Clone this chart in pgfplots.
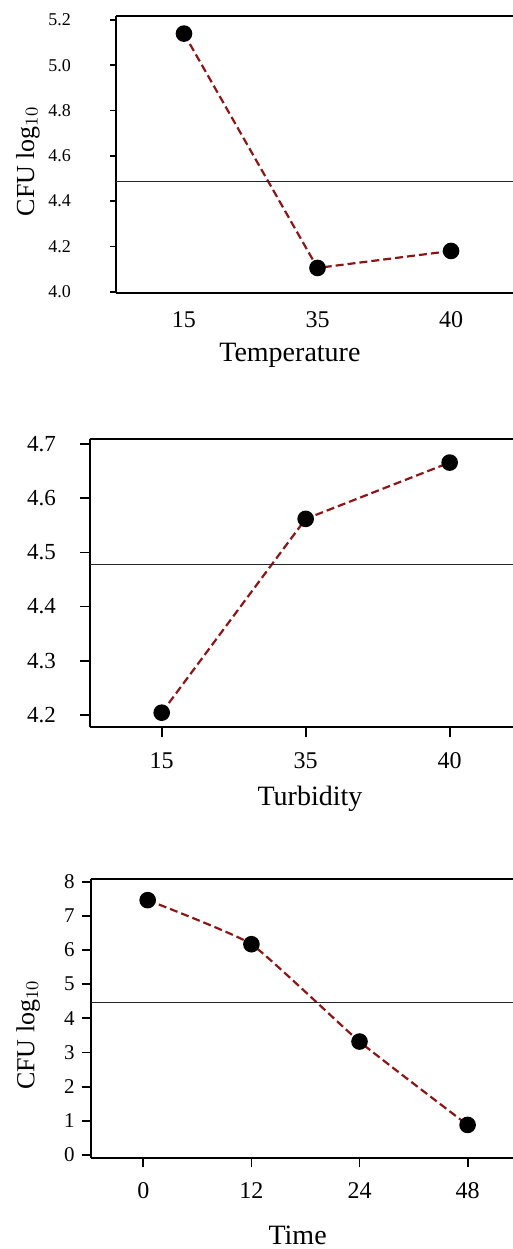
\documentclass[border=0pt]{standalone}
\usepackage{pgfplots}
\pgfplotsset{compat=1.18}
\usepackage{fontspec}
\setmainfont{Liberation Serif}
\definecolor{dred}{RGB}{140,22,22}
\pgfplotsset{
  mystyle/.style={
    scale only axis,
    axis x line*=box,
    axis y line*=left,
    xtick pos=bottom,
    ytick pos=left,
    tick align=outside,
    axis line style={line width=1pt,black},
    every tick/.style={black,line width=0.9pt},
    /pgf/number format/assume math mode=true,
    clip=false,
  },
  meanline/.style={line width=0.8pt,black!85,forget plot},
  dataline/.style={dred,line width=1.1pt,dash pattern=on 4pt off 2pt,
    mark=*,mark size=3.6pt,mark options={solid,fill=black,draw=black}},
  onedec/.style={/pgf/number format/fixed,/pgf/number format/fixed zerofill,/pgf/number format/precision=1},
}
\begin{document}
\begin{tikzpicture}
\path[use as bounding box] (0,0) rectangle (256.5pt,624.5pt);
% Panel 1
\begin{axis}[mystyle,
  at={(58pt,477.85pt)}, anchor=south west,
  width=198.5pt, height=138.8pt,
  xmin=-0.509, xmax=2.464, ymin=3.993, ymax=5.219,
  xtick={0,1,2}, xticklabels={15,35,40},
  ytick={4.0,4.2,4.4,4.6,4.8,5.0,5.2},
  onedec,
  x tick style={draw=none},
  major tick length=3pt,
  yticklabel style={font=\fontsize{9}{10}\selectfont, xshift=-16pt},
  xticklabel style={font=\fontsize{12}{13}\selectfont, yshift=-2.5pt},
  xlabel={Temperature},
  xlabel style={font=\fontsize{14}{15}\selectfont, at={(axis description cs:0.438,-0.224)}, anchor=center},
  ylabel={CFU log$_{10}$},
  ylabel style={font=\fontsize{13}{14}\selectfont, at={(axis description cs:-0.222,0.475)}, anchor=center},
]
\addplot[dataline] coordinates {(0,5.14) (1,4.105) (2,4.18)};
\addplot[meanline] coordinates {(-0.509,4.487) (2.464,4.487)};
\end{axis}
% Panel 2
\begin{axis}[mystyle,
  at={(45pt,260.85pt)}, anchor=south west,
  width=211.5pt, height=144pt,
  xmin=-0.498, xmax=2.44, ymin=4.177, ymax=4.709,
  xtick={0,1,2}, xticklabels={15,35,40},
  ytick={4.2,4.3,4.4,4.5,4.6,4.7},
  onedec,
  major tick length=5pt,
  yticklabel style={font=\fontsize{11.5}{12}\selectfont, xshift=-8.5pt},
  xticklabel style={font=\fontsize{12}{13}\selectfont, yshift=-4pt},
  xlabel={Turbidity},
  xlabel style={font=\fontsize{14}{15}\selectfont, at={(axis description cs:0.52,-0.25)}, anchor=center},
]
\addplot[dataline] coordinates {(0,4.204) (1,4.562) (2,4.666)};
\addplot[meanline] coordinates {(-0.498,4.478) (2.44,4.478)};
\end{axis}
% Panel 3
\begin{axis}[mystyle,
  at={(45.35pt,45.35pt)}, anchor=south west,
  width=211.15pt, height=139.5pt,
  xmin=-0.487, xmax=3.42, ymin=-0.097, ymax=8.07,
  xtick={0,1,2,3}, xticklabels={0,12,24,48},
  ytick={0,1,2,3,4,5,6,7,8},
  major tick length=4.5pt,
  yticklabel style={font=\fontsize{10.5}{11}\selectfont, xshift=0pt},
  xticklabel style={font=\fontsize{12}{13}\selectfont, yshift=-4pt},
  xlabel={Time},
  xlabel style={font=\fontsize{14}{15}\selectfont, at={(axis description cs:0.49,-0.275)}, anchor=center},
  ylabel={CFU log$_{10}$},
  ylabel style={font=\fontsize{13}{14}\selectfont, at={(axis description cs:-0.148,0.442)}, anchor=center},
]
\addplot[dataline,smooth,tension=0.25] coordinates {(0.04,7.46) (1,6.17) (2,3.32) (3,0.88)};
\addplot[meanline] coordinates {(-0.487,4.46) (3.42,4.46)};
\end{axis}
\end{tikzpicture}
\end{document}
